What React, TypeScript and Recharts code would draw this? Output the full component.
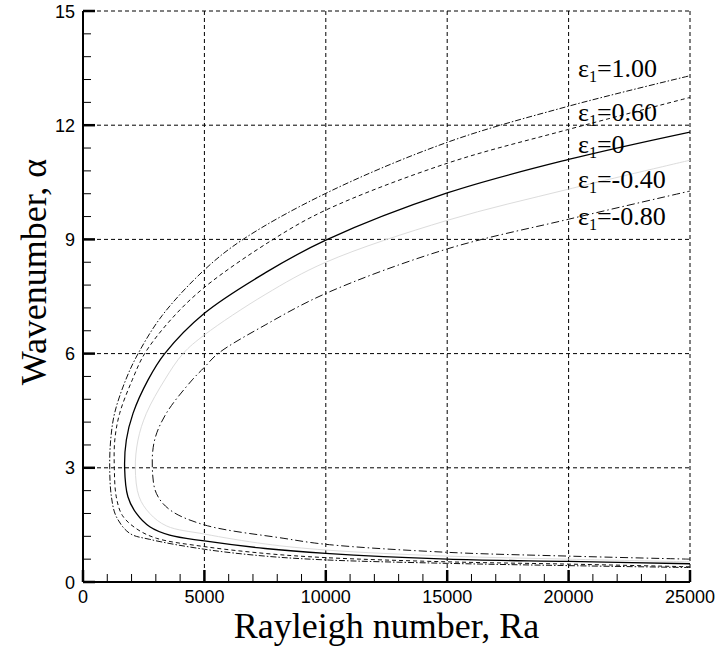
import { LineChart, Line, XAxis, YAxis, ReferenceLine } from 'recharts';

// Neutral stability curves: wavenumber alpha vs. Rayleigh number, one per epsilon_1.
// Each curve is listed in ascending alpha (lower branch -> nose -> upper branch).
const alphaEps100 = [0.38, 0.43, 0.49, 0.58, 0.68, 0.86, 1.12, 1.28, 1.72, 2.24, 2.99, 3.73, 4.43, 5.31, 6.0, 7.0, 8.2, 9.0, 10.21, 11.55, 12.5, 13.3];
const raEps100 = [25000, 20000, 15000, 10000, 7500, 5000, 2750, 1920, 1370, 1170, 1100, 1140, 1300, 1760, 2270, 3260, 5000, 6590, 10000, 15000, 20000, 25000];

const alphaEps060 = [0.40, 0.47, 0.53, 0.64, 0.75, 0.93, 1.15, 1.40, 1.75, 2.24, 2.99, 3.73, 4.43, 5.31, 6.0, 6.9, 7.74, 9.0, 9.77, 11.0, 11.89, 12.73];
const raEps060 = [25000, 20000, 15000, 10000, 7500, 5000, 3020, 2200, 1620, 1370, 1290, 1310, 1510, 2030, 2540, 3630, 5000, 7830, 10000, 15000, 20000, 25000];

const alphaEps000 = [0.48, 0.54, 0.60, 0.75, 0.88, 1.08, 1.23, 1.45, 1.80, 2.24, 2.99, 3.73, 4.43, 5.31, 6.0, 7.06, 8.12, 8.98, 10.22, 11.1, 11.82];
const raEps000 = [25000, 20000, 15000, 10000, 7500, 5000, 3570, 2750, 2200, 1850, 1715, 1785, 2060, 2680, 3365, 5000, 7500, 10000, 15000, 20000, 25000];

const alphaEpsM040 = [0.53, 0.60, 0.68, 0.84, 1.0, 1.26, 1.47, 1.80, 2.24, 2.99, 3.73, 4.43, 5.31, 6.0, 6.49, 7.55, 8.4, 9.5, 10.32, 11.08];
const raEpsM040 = [25000, 20000, 15000, 10000, 7500, 5000, 3450, 2750, 2310, 2155, 2265, 2610, 3365, 4120, 5000, 7500, 10000, 15000, 20000, 25000];

const alphaEpsM080 = [0.60, 0.68, 0.78, 0.99, 1.15, 1.50, 1.90, 2.33, 2.99, 3.73, 4.43, 5.31, 5.64, 6.0, 6.75, 7.58, 8.75, 9.53, 10.27];
const raEpsM080 = [25000, 20000, 15000, 10000, 8240, 5000, 3570, 3020, 2856, 2950, 3430, 4500, 5000, 5560, 7500, 10000, 15000, 20000, 25000];

const raTicks = Array.from({ length: 26 }, (_, i) => i * 1000);
const alphaTicks = Array.from({ length: 26 }, (_, i) => +(i * 0.6).toFixed(1));
const raGrid = [5000, 10000, 15000, 20000, 25000];
const alphaGrid = [3, 6, 9, 12, 15];

const curveLabels = ['=1.00', '=0.60', '=0', '=-0.40', '=-0.80'];
const labelBaselines = [77, 121, 153, 188, 225];

const toPoints = (ra: number[], alpha: number[]) => ra.map((r, i) => ({ ra: r, alpha: alpha[i] }));

// centripetal Catmull-Rom through the points (same maths as d3's curveCatmullRom)
const catmullRom = (context: any) => {
  let pts: number[][] = [];
  return {
    areaStart() {},
    areaEnd() {},
    lineStart() {
      pts = [];
    },
    point(x: number, y: number) {
      pts.push([+x, +y]);
    },
    lineEnd() {
      const n = pts.length;
      if (!n) return;
      context.moveTo(pts[0][0], pts[0][1]);
      for (let i = 0; i < n - 1; i++) {
        const p0 = pts[i - 1] || pts[i];
        const p1 = pts[i];
        const p2 = pts[i + 1];
        const p3 = pts[i + 2] || pts[i + 1];
        const l01 = Math.hypot(p1[0] - p0[0], p1[1] - p0[1]);
        const l12 = Math.hypot(p2[0] - p1[0], p2[1] - p1[1]);
        const l23 = Math.hypot(p3[0] - p2[0], p3[1] - p2[1]);
        const a01 = Math.sqrt(l01);
        const a12 = Math.sqrt(l12);
        const a23 = Math.sqrt(l23);
        let c1 = p1;
        let c2 = p2;
        if (a01 > 1e-9) {
          const a = 2 * l01 + 3 * a01 * a12 + l12;
          const m = 3 * a01 * (a01 + a12);
          c1 = [(p1[0] * a - p0[0] * l12 + p2[0] * l01) / m, (p1[1] * a - p0[1] * l12 + p2[1] * l01) / m];
        }
        if (a23 > 1e-9) {
          const b = 2 * l23 + 3 * a23 * a12 + l12;
          const m = 3 * a23 * (a23 + a12);
          c2 = [(p2[0] * b + p1[0] * l23 - p3[0] * l12) / m, (p2[1] * b + p1[1] * l23 - p3[1] * l12) / m];
        }
        context.bezierCurveTo(c1[0], c1[1], c2[0], c2[1], p2[0], p2[1]);
      }
    },
  };
};

const curves = [
  { key: 'e100', data: toPoints(raEps100, alphaEps100), stroke: '#111', width: 1, dash: '6 2 1.5 2' },
  { key: 'e060', data: toPoints(raEps060, alphaEps060), stroke: '#111', width: 1, dash: '4 3' },
  { key: 'e000', data: toPoints(raEps000, alphaEps000), stroke: '#000', width: 1.3, dash: undefined },
  { key: 'em040', data: toPoints(raEpsM040, alphaEpsM040), stroke: '#dcdcdc', width: 1, dash: undefined },
  { key: 'em080', data: toPoints(raEpsM080, alphaEpsM080), stroke: '#111', width: 1, dash: '8 3 1.5 3' },
];

const SANS = '"Liberation Sans", Arial, sans-serif';
const SERIF = '"Liberation Serif", "Times New Roman", serif';

// ticks point into the plot; only every fifth one is labelled
const RaTick = ({ x, y, payload }: any) => {
  const v = payload.value;
  const major = v % 5000 === 0;
  return (
    <g>
      <line x1={x} x2={x} y1={y} y2={y - (major ? 12 : 8)} stroke="#000" strokeWidth={major ? 2.5 : 1} />
      {major && (
        <text x={x} y={y + 21} textAnchor="middle" fontFamily={SANS} fontSize={18} fill="#000">
          {v}
        </text>
      )}
    </g>
  );
};

const AlphaTick = ({ x, y, payload }: any) => {
  const v = payload.value;
  const major = Math.abs(v / 3 - Math.round(v / 3)) < 1e-6;
  return (
    <g>
      <line x1={x} x2={x + (major ? 12 : 8)} y1={y} y2={y} stroke="#000" strokeWidth={major ? 2.5 : 1} />
      {major && (
        <text x={x - 8} y={y + 6.5} textAnchor="end" fontFamily={SANS} fontSize={18} fill="#000">
          {Math.round(v)}
        </text>
      )}
    </g>
  );
};

export default function App() {
  return (
    <div style={{ position: 'absolute', left: 0, top: 0, width: 722, height: 655, background: '#fff' }}>
      <LineChart width={722} height={655} margin={{ top: 11, right: 32, bottom: 0, left: 0 }}>
        {raGrid.map((v) => (
          <ReferenceLine key={`gx${v}`} x={v} stroke="#000" strokeWidth={1} strokeDasharray="4 3" />
        ))}
        {alphaGrid.map((v) => (
          <ReferenceLine key={`gy${v}`} y={v} stroke="#000" strokeWidth={1} strokeDasharray="4 3" />
        ))}
        <XAxis
          dataKey="ra"
          type="number"
          domain={[0, 25000]}
          ticks={raTicks}
          interval={0}
          height={73}
          tickSize={0}
          tickMargin={0}
          tickLine={false}
          tick={<RaTick />}
          axisLine={{ stroke: '#000', strokeWidth: 2 }}
          allowDataOverflow
        />
        <YAxis
          type="number"
          domain={[0, 15]}
          ticks={alphaTicks}
          interval={0}
          width={83}
          tickSize={0}
          tickMargin={0}
          tickLine={false}
          tick={<AlphaTick />}
          axisLine={{ stroke: '#000', strokeWidth: 2 }}
          allowDataOverflow
        />
        {curves.map((c) => (
          <Line
            key={c.key}
            data={c.data}
            dataKey="alpha"
            type={catmullRom as any}
            stroke={c.stroke}
            strokeWidth={c.width}
            strokeDasharray={c.dash}
            dot={false}
            activeDot={false}
            isAnimationActive={false}
          />
        ))}
      </LineChart>
      <svg
        width={722}
        height={655}
        style={{ position: 'absolute', left: 0, top: 0, pointerEvents: 'none' }}
      >
        {curveLabels.map((t, i) => (
          <text key={i} x={578} y={labelBaselines[i]} fontFamily={SERIF} fontSize={26} fill="#000">
            ε
            <tspan fontSize={16} dy={5}>1</tspan>
            <tspan dy={-5}>{t}</tspan>
          </text>
        ))}
        <text x={386.5} y={638} textAnchor="middle" fontFamily={SERIF} fontSize={36} fill="#000">
          Rayleigh number, Ra
        </text>
        <text
          transform="translate(46,272) rotate(-90)"
          textAnchor="middle"
          fontFamily={SERIF}
          fontSize={36}
          fill="#000"
        >
          Wavenumber, α
        </text>
      </svg>
    </div>
  );
}
